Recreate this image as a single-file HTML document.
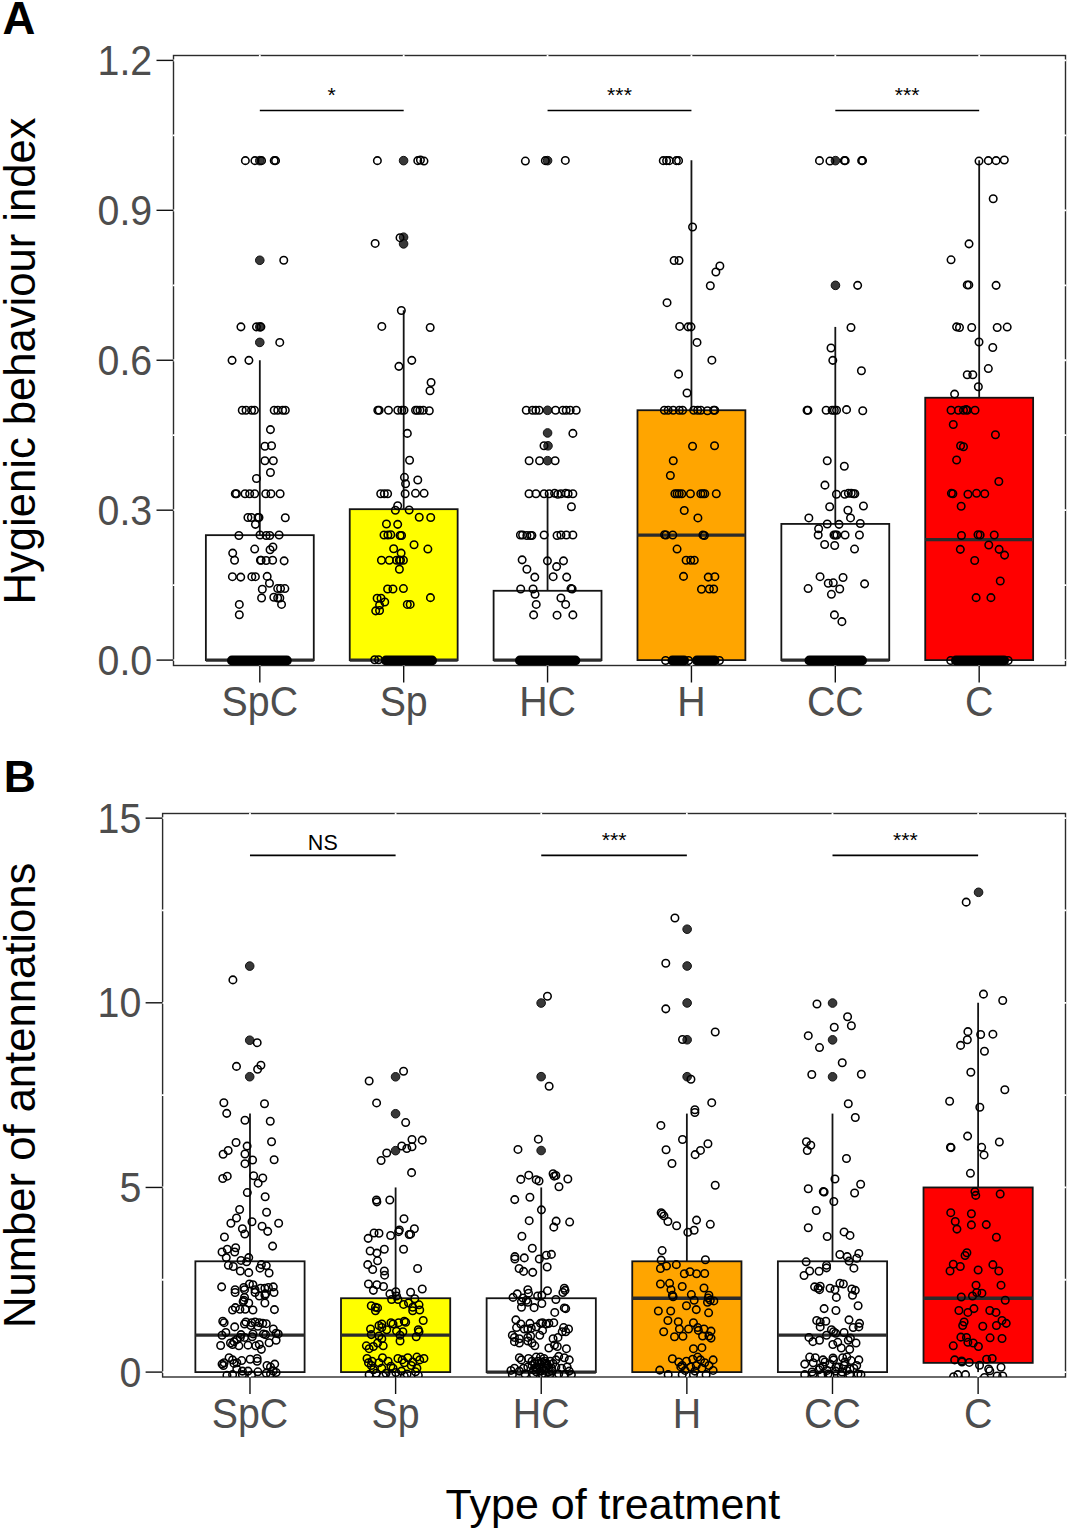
<!DOCTYPE html>
<html><head><meta charset="utf-8"><style>
html,body{margin:0;padding:0;background:#fff;}
svg{display:block;}
text{font-family:"Liberation Sans",sans-serif;}
.tk{font-size:41.6px;fill:#4D4D4D;}
.sg{font-size:21.5px;fill:#000;}
.pl{font-size:45.5px;font-weight:bold;fill:#000;}
.ti{font-size:43.6px;fill:#000;}
circle{fill:none;stroke:#000;stroke-width:1.55;}
circle.f{fill:#383838;stroke:#111;stroke-width:1;}
</style></head><body>
<svg width="1068" height="1532" viewBox="0 0 1068 1532">
<defs>
<clipPath id="ca"><rect x="173.5" y="55.5" width="892" height="610"/></clipPath>
<clipPath id="cb"><rect x="162.6" y="813.5" width="902.9" height="563.5"/></clipPath>
</defs>
<rect width="1068" height="1532" fill="#fff"/>
<rect x="173.5" y="55.5" width="892" height="610" fill="#fff" stroke="#2b2b2b" stroke-width="1.4"/>
<line x1="172.7" x2="1066.3" y1="660.1" y2="660.1" stroke="#FFFFFF" stroke-width="1.8"/>
<line x1="172.7" x2="1066.3" y1="510.18" y2="510.18" stroke="#FFFFFF" stroke-width="1.8"/>
<line x1="172.7" x2="1066.3" y1="360.25" y2="360.25" stroke="#FFFFFF" stroke-width="1.8"/>
<line x1="172.7" x2="1066.3" y1="210.32" y2="210.32" stroke="#FFFFFF" stroke-width="1.8"/>
<line x1="172.7" x2="1066.3" y1="60.4" y2="60.4" stroke="#FFFFFF" stroke-width="1.8"/>
<line x1="172.7" x2="1066.3" y1="585.14" y2="585.14" stroke="#FFFFFF" stroke-width="1.8"/>
<line x1="172.7" x2="1066.3" y1="435.21" y2="435.21" stroke="#FFFFFF" stroke-width="1.8"/>
<line x1="172.7" x2="1066.3" y1="285.29" y2="285.29" stroke="#FFFFFF" stroke-width="1.8"/>
<line x1="172.7" x2="1066.3" y1="135.36" y2="135.36" stroke="#FFFFFF" stroke-width="1.8"/>
<line y1="54.7" y2="666.3" x1="259.82" x2="259.82" stroke="#FFFFFF" stroke-width="1.8"/>
<line y1="54.7" y2="666.3" x1="403.69" x2="403.69" stroke="#FFFFFF" stroke-width="1.8"/>
<line y1="54.7" y2="666.3" x1="547.56" x2="547.56" stroke="#FFFFFF" stroke-width="1.8"/>
<line y1="54.7" y2="666.3" x1="691.44" x2="691.44" stroke="#FFFFFF" stroke-width="1.8"/>
<line y1="54.7" y2="666.3" x1="835.31" x2="835.31" stroke="#FFFFFF" stroke-width="1.8"/>
<line y1="54.7" y2="666.3" x1="979.18" x2="979.18" stroke="#FFFFFF" stroke-width="1.8"/>
<g clip-path="url(#ca)">
<line x1="259.82" x2="259.82" y1="360.25" y2="535.16" stroke="#141414" stroke-width="1.8"/>
<rect x="205.87" y="535.16" width="107.9" height="124.94" fill="#FFFFFF" stroke="#141414" stroke-width="1.8"/>
<line x1="205.87" x2="313.77" y1="660.1" y2="660.1" stroke="#2b2b2b" stroke-width="3.4"/>
<line x1="403.69" x2="403.69" y1="310.28" y2="509.18" stroke="#141414" stroke-width="1.8"/>
<rect x="349.74" y="509.18" width="107.9" height="150.92" fill="#FFFF00" stroke="#141414" stroke-width="1.8"/>
<line x1="349.74" x2="457.65" y1="660.1" y2="660.1" stroke="#2b2b2b" stroke-width="3.4"/>
<line x1="547.56" x2="547.56" y1="493.53" y2="590.78" stroke="#141414" stroke-width="1.8"/>
<rect x="493.61" y="590.78" width="107.9" height="69.32" fill="#FFFFFF" stroke="#141414" stroke-width="1.8"/>
<line x1="493.61" x2="601.52" y1="660.1" y2="660.1" stroke="#2b2b2b" stroke-width="3.4"/>
<line x1="691.44" x2="691.44" y1="160.35" y2="410.23" stroke="#141414" stroke-width="1.8"/>
<rect x="637.48" y="410.23" width="107.9" height="249.88" fill="#FFA500" stroke="#141414" stroke-width="1.8"/>
<line x1="637.48" x2="745.39" y1="535.16" y2="535.16" stroke="#2b2b2b" stroke-width="3.4"/>
<line x1="835.31" x2="835.31" y1="326.92" y2="523.92" stroke="#141414" stroke-width="1.8"/>
<rect x="781.35" y="523.92" width="107.9" height="136.18" fill="#FFFFFF" stroke="#141414" stroke-width="1.8"/>
<line x1="781.35" x2="889.26" y1="660.1" y2="660.1" stroke="#2b2b2b" stroke-width="3.4"/>
<line x1="979.18" x2="979.18" y1="160.35" y2="397.73" stroke="#141414" stroke-width="1.8"/>
<rect x="925.23" y="397.73" width="107.9" height="262.37" fill="#FF0000" stroke="#141414" stroke-width="1.8"/>
<line x1="925.23" x2="1033.13" y1="539.66" y2="539.66" stroke="#2b2b2b" stroke-width="3.4"/>
<circle class="f" cx="259.79" cy="160.64" r="4.3"/>
<circle class="f" cx="259.79" cy="260.28" r="4.3"/>
<circle class="f" cx="259.79" cy="326.86" r="4.3"/>
<circle class="f" cx="259.79" cy="342.4" r="4.3"/>
<circle class="f" cx="403.57" cy="160.64" r="4.3"/>
<circle class="f" cx="403.57" cy="237.2" r="4.3"/>
<circle class="f" cx="403.57" cy="243.86" r="4.3"/>
<circle class="f" cx="547.57" cy="160.64" r="4.3"/>
<circle class="f" cx="547.57" cy="410.31" r="4.3"/>
<circle class="f" cx="547.57" cy="432.94" r="4.3"/>
<circle class="f" cx="548.01" cy="445.81" r="4.3"/>
<circle class="f" cx="547.57" cy="460.68" r="4.3"/>
<circle class="f" cx="835.45" cy="160.64" r="4.3"/>
<circle class="f" cx="835.45" cy="285.36" r="4.3"/>
<circle cx="245.36" cy="160.64" r="3.75"/>
<circle cx="254.91" cy="160.64" r="3.75"/>
<circle cx="261.56" cy="160.64" r="3.75"/>
<circle cx="274.21" cy="160.64" r="3.75"/>
<circle cx="275.55" cy="160.64" r="3.75"/>
<circle cx="283.76" cy="260.28" r="3.75"/>
<circle cx="240.93" cy="326.86" r="3.75"/>
<circle cx="256.46" cy="326.86" r="3.75"/>
<circle cx="260.9" cy="326.86" r="3.75"/>
<circle cx="279.76" cy="342.4" r="3.75"/>
<circle cx="232.05" cy="360.37" r="3.75"/>
<circle cx="248.91" cy="360.37" r="3.75"/>
<circle cx="242.26" cy="410.31" r="3.75"/>
<circle cx="246.03" cy="410.31" r="3.75"/>
<circle cx="251.58" cy="410.31" r="3.75"/>
<circle cx="254.46" cy="410.31" r="3.75"/>
<circle cx="274.21" cy="410.31" r="3.75"/>
<circle cx="277.77" cy="410.31" r="3.75"/>
<circle cx="282.65" cy="410.31" r="3.75"/>
<circle cx="285.31" cy="410.31" r="3.75"/>
<circle cx="270.44" cy="429.61" r="3.75"/>
<circle cx="264.89" cy="446.26" r="3.75"/>
<circle cx="271.55" cy="445.81" r="3.75"/>
<circle cx="264.89" cy="460.68" r="3.75"/>
<circle cx="273.33" cy="460.68" r="3.75"/>
<circle cx="270.44" cy="472.45" r="3.75"/>
<circle cx="256.46" cy="478.44" r="3.75"/>
<circle cx="235.29" cy="493.76" r="3.75"/>
<circle cx="236.44" cy="493.76" r="3.75"/>
<circle cx="245.06" cy="493.76" r="3.75"/>
<circle cx="249.66" cy="493.76" r="3.75"/>
<circle cx="254.68" cy="493.76" r="3.75"/>
<circle cx="265.75" cy="493.76" r="3.75"/>
<circle cx="270.92" cy="493.76" r="3.75"/>
<circle cx="280.11" cy="493.76" r="3.75"/>
<circle cx="247.93" cy="517.47" r="3.75"/>
<circle cx="251.38" cy="517.47" r="3.75"/>
<circle cx="257.99" cy="517.47" r="3.75"/>
<circle cx="258.99" cy="517.47" r="3.75"/>
<circle cx="285.29" cy="517.76" r="3.75"/>
<circle cx="255.4" cy="524.37" r="3.75"/>
<circle cx="238.88" cy="535.43" r="3.75"/>
<circle cx="260" cy="535" r="3.75"/>
<circle cx="266.18" cy="535.43" r="3.75"/>
<circle cx="269.77" cy="535.43" r="3.75"/>
<circle cx="279.11" cy="535" r="3.75"/>
<circle cx="272.93" cy="546.93" r="3.75"/>
<circle cx="270.06" cy="549.8" r="3.75"/>
<circle cx="254.68" cy="549.08" r="3.75"/>
<circle cx="232.7" cy="553.1" r="3.75"/>
<circle cx="234.57" cy="560.29" r="3.75"/>
<circle cx="260.43" cy="560.29" r="3.75"/>
<circle cx="261.15" cy="560.29" r="3.75"/>
<circle cx="266.18" cy="560.57" r="3.75"/>
<circle cx="272.64" cy="560.29" r="3.75"/>
<circle cx="284.14" cy="560.86" r="3.75"/>
<circle cx="232.41" cy="576.67" r="3.75"/>
<circle cx="240.75" cy="577.1" r="3.75"/>
<circle cx="251.81" cy="576.67" r="3.75"/>
<circle cx="255.4" cy="576.67" r="3.75"/>
<circle cx="267.18" cy="576.38" r="3.75"/>
<circle cx="269.48" cy="583.28" r="3.75"/>
<circle cx="262.3" cy="589.31" r="3.75"/>
<circle cx="277.67" cy="588.59" r="3.75"/>
<circle cx="280.55" cy="588.59" r="3.75"/>
<circle cx="284.86" cy="588.59" r="3.75"/>
<circle cx="261.58" cy="597.93" r="3.75"/>
<circle cx="273.79" cy="597.21" r="3.75"/>
<circle cx="277.67" cy="597.93" r="3.75"/>
<circle cx="279.83" cy="597.93" r="3.75"/>
<circle cx="281.55" cy="604.4" r="3.75"/>
<circle cx="239.31" cy="604.4" r="3.75"/>
<circle cx="239.31" cy="614.74" r="3.75"/>
<circle cx="377.38" cy="160.64" r="3.75"/>
<circle cx="417.77" cy="160.64" r="3.75"/>
<circle cx="420.43" cy="159.97" r="3.75"/>
<circle cx="423.98" cy="161.08" r="3.75"/>
<circle cx="400.02" cy="237.65" r="3.75"/>
<circle cx="375.16" cy="243.42" r="3.75"/>
<circle cx="401.35" cy="310.44" r="3.75"/>
<circle cx="381.82" cy="326.42" r="3.75"/>
<circle cx="430.2" cy="327.53" r="3.75"/>
<circle cx="411.78" cy="360.37" r="3.75"/>
<circle cx="398.91" cy="366.36" r="3.75"/>
<circle cx="431.09" cy="382.57" r="3.75"/>
<circle cx="429.98" cy="390.78" r="3.75"/>
<circle cx="377.82" cy="410.31" r="3.75"/>
<circle cx="379.16" cy="410.31" r="3.75"/>
<circle cx="388.48" cy="410.31" r="3.75"/>
<circle cx="397.8" cy="410.31" r="3.75"/>
<circle cx="401.79" cy="410.31" r="3.75"/>
<circle cx="404.01" cy="410.31" r="3.75"/>
<circle cx="415.55" cy="410.31" r="3.75"/>
<circle cx="417.33" cy="410.31" r="3.75"/>
<circle cx="419.99" cy="410.31" r="3.75"/>
<circle cx="423.32" cy="410.31" r="3.75"/>
<circle cx="429.31" cy="410.75" r="3.75"/>
<circle cx="407.34" cy="433.39" r="3.75"/>
<circle cx="409.56" cy="460.24" r="3.75"/>
<circle cx="404.45" cy="477.33" r="3.75"/>
<circle cx="417.77" cy="479.99" r="3.75"/>
<circle cx="405.58" cy="483.71" r="3.75"/>
<circle cx="380.72" cy="493.76" r="3.75"/>
<circle cx="384.32" cy="493.76" r="3.75"/>
<circle cx="387.62" cy="493.76" r="3.75"/>
<circle cx="405.15" cy="493.76" r="3.75"/>
<circle cx="415.49" cy="493.33" r="3.75"/>
<circle cx="424.11" cy="493.33" r="3.75"/>
<circle cx="397.68" cy="505.69" r="3.75"/>
<circle cx="395.38" cy="510.29" r="3.75"/>
<circle cx="409.17" cy="510" r="3.75"/>
<circle cx="419.23" cy="517.18" r="3.75"/>
<circle cx="430.72" cy="517.47" r="3.75"/>
<circle cx="386.47" cy="523.94" r="3.75"/>
<circle cx="397.68" cy="524.37" r="3.75"/>
<circle cx="384.03" cy="535" r="3.75"/>
<circle cx="387.91" cy="535" r="3.75"/>
<circle cx="390.78" cy="534.71" r="3.75"/>
<circle cx="400.12" cy="535.43" r="3.75"/>
<circle cx="401.56" cy="535.43" r="3.75"/>
<circle cx="414.06" cy="544.77" r="3.75"/>
<circle cx="393.66" cy="548.79" r="3.75"/>
<circle cx="427.85" cy="549.08" r="3.75"/>
<circle cx="401.13" cy="553.1" r="3.75"/>
<circle cx="381.44" cy="560.29" r="3.75"/>
<circle cx="389.34" cy="560.29" r="3.75"/>
<circle cx="396.53" cy="560.29" r="3.75"/>
<circle cx="399.4" cy="560.29" r="3.75"/>
<circle cx="400.55" cy="560.29" r="3.75"/>
<circle cx="403.43" cy="560.29" r="3.75"/>
<circle cx="399.4" cy="569.2" r="3.75"/>
<circle cx="387.62" cy="589.02" r="3.75"/>
<circle cx="392.94" cy="589.02" r="3.75"/>
<circle cx="403.43" cy="588.59" r="3.75"/>
<circle cx="377.13" cy="598.22" r="3.75"/>
<circle cx="381.01" cy="598.22" r="3.75"/>
<circle cx="384.75" cy="601.95" r="3.75"/>
<circle cx="379.57" cy="605.11" r="3.75"/>
<circle cx="430.44" cy="597.64" r="3.75"/>
<circle cx="375.7" cy="610.86" r="3.75"/>
<circle cx="379.57" cy="610.57" r="3.75"/>
<circle cx="407.3" cy="604.4" r="3.75"/>
<circle cx="410.18" cy="604.4" r="3.75"/>
<circle cx="374.69" cy="659.71" r="3.75"/>
<circle cx="378.57" cy="659.71" r="3.75"/>
<circle cx="525.37" cy="161.08" r="3.75"/>
<circle cx="565.32" cy="160.42" r="3.75"/>
<circle cx="545.35" cy="160.64" r="3.75"/>
<circle cx="526.26" cy="410.31" r="3.75"/>
<circle cx="532.48" cy="410.31" r="3.75"/>
<circle cx="535.81" cy="410.31" r="3.75"/>
<circle cx="539.13" cy="410.31" r="3.75"/>
<circle cx="555.56" cy="410.31" r="3.75"/>
<circle cx="562.88" cy="410.31" r="3.75"/>
<circle cx="566.21" cy="410.31" r="3.75"/>
<circle cx="570.2" cy="410.31" r="3.75"/>
<circle cx="576.2" cy="410.31" r="3.75"/>
<circle cx="572.87" cy="433.39" r="3.75"/>
<circle cx="544.02" cy="445.81" r="3.75"/>
<circle cx="529.15" cy="460.68" r="3.75"/>
<circle cx="539.58" cy="460.68" r="3.75"/>
<circle cx="555.11" cy="460.68" r="3.75"/>
<circle cx="529.03" cy="493.76" r="3.75"/>
<circle cx="535.93" cy="493.76" r="3.75"/>
<circle cx="544.12" cy="493.76" r="3.75"/>
<circle cx="549.15" cy="493.76" r="3.75"/>
<circle cx="554.61" cy="493.33" r="3.75"/>
<circle cx="557.77" cy="494.2" r="3.75"/>
<circle cx="560.93" cy="493.76" r="3.75"/>
<circle cx="565.67" cy="493.33" r="3.75"/>
<circle cx="568.11" cy="493.76" r="3.75"/>
<circle cx="572.86" cy="493.76" r="3.75"/>
<circle cx="571.42" cy="506.7" r="3.75"/>
<circle cx="520.41" cy="535" r="3.75"/>
<circle cx="522.57" cy="535" r="3.75"/>
<circle cx="526.88" cy="535.43" r="3.75"/>
<circle cx="530.47" cy="535.43" r="3.75"/>
<circle cx="531.91" cy="535.43" r="3.75"/>
<circle cx="544.12" cy="535" r="3.75"/>
<circle cx="557.05" cy="535.43" r="3.75"/>
<circle cx="560.93" cy="535" r="3.75"/>
<circle cx="566.39" cy="535" r="3.75"/>
<circle cx="572.86" cy="535" r="3.75"/>
<circle cx="522.14" cy="559.86" r="3.75"/>
<circle cx="547.43" cy="560.86" r="3.75"/>
<circle cx="563.52" cy="560.86" r="3.75"/>
<circle cx="556.62" cy="566.61" r="3.75"/>
<circle cx="526.88" cy="569.2" r="3.75"/>
<circle cx="534.78" cy="577.1" r="3.75"/>
<circle cx="553.17" cy="576.67" r="3.75"/>
<circle cx="566.68" cy="577.1" r="3.75"/>
<circle cx="520.7" cy="589.02" r="3.75"/>
<circle cx="533.06" cy="589.02" r="3.75"/>
<circle cx="570.99" cy="588.59" r="3.75"/>
<circle cx="572.14" cy="589.02" r="3.75"/>
<circle cx="535.07" cy="594.34" r="3.75"/>
<circle cx="560.93" cy="597.93" r="3.75"/>
<circle cx="536.22" cy="604.4" r="3.75"/>
<circle cx="565.67" cy="604.4" r="3.75"/>
<circle cx="533.63" cy="614.89" r="3.75"/>
<circle cx="557.05" cy="615.17" r="3.75"/>
<circle cx="572.86" cy="614.89" r="3.75"/>
<circle cx="663.27" cy="160.64" r="3.75"/>
<circle cx="666.6" cy="160.64" r="3.75"/>
<circle cx="669.26" cy="160.64" r="3.75"/>
<circle cx="676.36" cy="160.64" r="3.75"/>
<circle cx="678.58" cy="160.64" r="3.75"/>
<circle cx="692.56" cy="227" r="3.75"/>
<circle cx="674.14" cy="260.51" r="3.75"/>
<circle cx="679.03" cy="260.51" r="3.75"/>
<circle cx="719.86" cy="266.05" r="3.75"/>
<circle cx="715.87" cy="272.05" r="3.75"/>
<circle cx="710.32" cy="285.81" r="3.75"/>
<circle cx="667.04" cy="302.67" r="3.75"/>
<circle cx="679.69" cy="326.42" r="3.75"/>
<circle cx="688.13" cy="326.86" r="3.75"/>
<circle cx="691.01" cy="326.86" r="3.75"/>
<circle cx="697" cy="342.4" r="3.75"/>
<circle cx="711.87" cy="360.15" r="3.75"/>
<circle cx="678.58" cy="374.13" r="3.75"/>
<circle cx="687.02" cy="393" r="3.75"/>
<circle cx="664.38" cy="410.31" r="3.75"/>
<circle cx="668.15" cy="410.31" r="3.75"/>
<circle cx="673.26" cy="410.31" r="3.75"/>
<circle cx="679.25" cy="410.31" r="3.75"/>
<circle cx="682.58" cy="410.31" r="3.75"/>
<circle cx="693.67" cy="410.31" r="3.75"/>
<circle cx="697.67" cy="410.31" r="3.75"/>
<circle cx="700.78" cy="410.31" r="3.75"/>
<circle cx="707.43" cy="410.75" r="3.75"/>
<circle cx="713.65" cy="410.31" r="3.75"/>
<circle cx="714.76" cy="410.31" r="3.75"/>
<circle cx="692.56" cy="446.26" r="3.75"/>
<circle cx="714.54" cy="445.81" r="3.75"/>
<circle cx="673.26" cy="460.68" r="3.75"/>
<circle cx="670.37" cy="475.55" r="3.75"/>
<circle cx="674.91" cy="493.76" r="3.75"/>
<circle cx="677.06" cy="493.76" r="3.75"/>
<circle cx="679.22" cy="493.76" r="3.75"/>
<circle cx="681.8" cy="493.76" r="3.75"/>
<circle cx="690.43" cy="493.76" r="3.75"/>
<circle cx="700.77" cy="493.76" r="3.75"/>
<circle cx="702.93" cy="493.76" r="3.75"/>
<circle cx="704.79" cy="493.76" r="3.75"/>
<circle cx="716.29" cy="493.76" r="3.75"/>
<circle cx="684.25" cy="510.57" r="3.75"/>
<circle cx="697.9" cy="517.9" r="3.75"/>
<circle cx="664.56" cy="534.71" r="3.75"/>
<circle cx="666" cy="535" r="3.75"/>
<circle cx="672.75" cy="535" r="3.75"/>
<circle cx="702.93" cy="535" r="3.75"/>
<circle cx="704.36" cy="535.43" r="3.75"/>
<circle cx="677.06" cy="549.08" r="3.75"/>
<circle cx="686.11" cy="560.29" r="3.75"/>
<circle cx="690.71" cy="560.29" r="3.75"/>
<circle cx="694.3" cy="560.29" r="3.75"/>
<circle cx="683.53" cy="576.38" r="3.75"/>
<circle cx="708.24" cy="577.1" r="3.75"/>
<circle cx="714.85" cy="576.67" r="3.75"/>
<circle cx="701.49" cy="589.31" r="3.75"/>
<circle cx="709.39" cy="589.02" r="3.75"/>
<circle cx="713.7" cy="589.02" r="3.75"/>
<circle cx="665.57" cy="660.43" r="3.75"/>
<circle cx="688.56" cy="660.43" r="3.75"/>
<circle cx="719.45" cy="660.43" r="3.75"/>
<circle cx="819.48" cy="160.64" r="3.75"/>
<circle cx="829.91" cy="161.08" r="3.75"/>
<circle cx="844.33" cy="160.64" r="3.75"/>
<circle cx="845.22" cy="160.64" r="3.75"/>
<circle cx="861.64" cy="160.64" r="3.75"/>
<circle cx="862.53" cy="160.64" r="3.75"/>
<circle cx="857.65" cy="285.36" r="3.75"/>
<circle cx="850.99" cy="327.53" r="3.75"/>
<circle cx="831.02" cy="347.94" r="3.75"/>
<circle cx="832.79" cy="360.37" r="3.75"/>
<circle cx="861.42" cy="370.8" r="3.75"/>
<circle cx="807.05" cy="410.31" r="3.75"/>
<circle cx="807.94" cy="410.31" r="3.75"/>
<circle cx="826.13" cy="410.31" r="3.75"/>
<circle cx="832.13" cy="410.31" r="3.75"/>
<circle cx="834.35" cy="410.31" r="3.75"/>
<circle cx="836.56" cy="410.31" r="3.75"/>
<circle cx="846.55" cy="409.64" r="3.75"/>
<circle cx="862.75" cy="410.75" r="3.75"/>
<circle cx="827.24" cy="460.68" r="3.75"/>
<circle cx="844.33" cy="466.23" r="3.75"/>
<circle cx="824.94" cy="485.14" r="3.75"/>
<circle cx="836.44" cy="494.2" r="3.75"/>
<circle cx="844.77" cy="494.2" r="3.75"/>
<circle cx="848.36" cy="493.33" r="3.75"/>
<circle cx="851.24" cy="493.33" r="3.75"/>
<circle cx="853.39" cy="493.76" r="3.75"/>
<circle cx="854.83" cy="493.76" r="3.75"/>
<circle cx="829.68" cy="506.7" r="3.75"/>
<circle cx="863.45" cy="505.98" r="3.75"/>
<circle cx="847.93" cy="510.29" r="3.75"/>
<circle cx="808.85" cy="517.9" r="3.75"/>
<circle cx="850.52" cy="517.9" r="3.75"/>
<circle cx="827.24" cy="523.94" r="3.75"/>
<circle cx="839.02" cy="524.37" r="3.75"/>
<circle cx="860.29" cy="523.51" r="3.75"/>
<circle cx="818.62" cy="528.68" r="3.75"/>
<circle cx="818.19" cy="535" r="3.75"/>
<circle cx="833.99" cy="535" r="3.75"/>
<circle cx="835.43" cy="535" r="3.75"/>
<circle cx="836.87" cy="535" r="3.75"/>
<circle cx="845.06" cy="535" r="3.75"/>
<circle cx="859.43" cy="535" r="3.75"/>
<circle cx="824.66" cy="544.48" r="3.75"/>
<circle cx="834.71" cy="545.49" r="3.75"/>
<circle cx="854.54" cy="549.08" r="3.75"/>
<circle cx="820.06" cy="576.67" r="3.75"/>
<circle cx="843.05" cy="577.53" r="3.75"/>
<circle cx="828.25" cy="583.28" r="3.75"/>
<circle cx="833.28" cy="582.84" r="3.75"/>
<circle cx="864.6" cy="583.85" r="3.75"/>
<circle cx="808.13" cy="588.59" r="3.75"/>
<circle cx="839.74" cy="589.02" r="3.75"/>
<circle cx="831.41" cy="594.34" r="3.75"/>
<circle cx="834.43" cy="614.89" r="3.75"/>
<circle cx="841.9" cy="621.64" r="3.75"/>
<circle cx="979.01" cy="161.08" r="3.75"/>
<circle cx="988.33" cy="160.64" r="3.75"/>
<circle cx="996.1" cy="160.64" r="3.75"/>
<circle cx="1004.31" cy="159.97" r="3.75"/>
<circle cx="993.21" cy="198.81" r="3.75"/>
<circle cx="969.02" cy="243.86" r="3.75"/>
<circle cx="951.05" cy="259.84" r="3.75"/>
<circle cx="967.25" cy="284.92" r="3.75"/>
<circle cx="968.8" cy="284.92" r="3.75"/>
<circle cx="996.1" cy="285.36" r="3.75"/>
<circle cx="956.6" cy="326.86" r="3.75"/>
<circle cx="959.48" cy="327.53" r="3.75"/>
<circle cx="971.69" cy="327.53" r="3.75"/>
<circle cx="997.21" cy="327.53" r="3.75"/>
<circle cx="1007.2" cy="327.08" r="3.75"/>
<circle cx="979.01" cy="341.95" r="3.75"/>
<circle cx="992.77" cy="347.5" r="3.75"/>
<circle cx="988.33" cy="368.58" r="3.75"/>
<circle cx="967.25" cy="374.8" r="3.75"/>
<circle cx="972.8" cy="374.8" r="3.75"/>
<circle cx="978.35" cy="386.78" r="3.75"/>
<circle cx="954.6" cy="394.11" r="3.75"/>
<circle cx="951.05" cy="410.31" r="3.75"/>
<circle cx="958.37" cy="410.31" r="3.75"/>
<circle cx="963.48" cy="410.31" r="3.75"/>
<circle cx="966.14" cy="409.64" r="3.75"/>
<circle cx="967.25" cy="410.31" r="3.75"/>
<circle cx="975.02" cy="410.31" r="3.75"/>
<circle cx="953.27" cy="424.51" r="3.75"/>
<circle cx="995.43" cy="434.72" r="3.75"/>
<circle cx="960.59" cy="445.81" r="3.75"/>
<circle cx="963.48" cy="446.7" r="3.75"/>
<circle cx="956.6" cy="460.02" r="3.75"/>
<circle cx="998.83" cy="481.55" r="3.75"/>
<circle cx="951.41" cy="493.33" r="3.75"/>
<circle cx="952.85" cy="493.76" r="3.75"/>
<circle cx="967.94" cy="494.2" r="3.75"/>
<circle cx="976.56" cy="493.33" r="3.75"/>
<circle cx="984.75" cy="493.76" r="3.75"/>
<circle cx="961.18" cy="506.26" r="3.75"/>
<circle cx="961.47" cy="535.43" r="3.75"/>
<circle cx="977.99" cy="534.71" r="3.75"/>
<circle cx="980.15" cy="535" r="3.75"/>
<circle cx="994.23" cy="535" r="3.75"/>
<circle cx="988.77" cy="545.06" r="3.75"/>
<circle cx="960.32" cy="549.37" r="3.75"/>
<circle cx="999.11" cy="549.37" r="3.75"/>
<circle cx="1004.57" cy="555.11" r="3.75"/>
<circle cx="974.69" cy="560.57" r="3.75"/>
<circle cx="1000.26" cy="580.98" r="3.75"/>
<circle cx="976.13" cy="597.64" r="3.75"/>
<circle cx="990.93" cy="597.64" r="3.75"/>
<circle cx="950.7" cy="660.43" r="3.75"/>
<circle cx="980.15" cy="660.43" r="3.75"/>
<circle cx="1008.17" cy="660.43" r="3.75"/>
<rect x="227" y="655.6" width="64.8" height="9.8" rx="4.9" fill="#000"/>
<rect x="381" y="655.6" width="56" height="9.8" rx="4.9" fill="#000"/>
<rect x="515" y="655.6" width="65.3" height="9.8" rx="4.9" fill="#000"/>
<rect x="667.5" y="655.6" width="21.5" height="9.8" rx="4.9" fill="#000"/>
<rect x="692" y="655.6" width="27.5" height="9.8" rx="4.9" fill="#000"/>
<rect x="804.5" y="655.6" width="62.5" height="9.8" rx="4.9" fill="#000"/>
<rect x="951" y="655.6" width="58" height="9.8" rx="4.9" fill="#000"/>
</g>
<line x1="156.5" x2="173.5" y1="660.1" y2="660.1" stroke="#111" stroke-width="1.4"/>
<text transform="translate(152.2,674.6) scale(0.945,1)" class="tk" text-anchor="end">0.0</text>
<line x1="156.5" x2="173.5" y1="510.18" y2="510.18" stroke="#111" stroke-width="1.4"/>
<text transform="translate(152.2,524.68) scale(0.945,1)" class="tk" text-anchor="end">0.3</text>
<line x1="156.5" x2="173.5" y1="360.25" y2="360.25" stroke="#111" stroke-width="1.4"/>
<text transform="translate(152.2,374.75) scale(0.945,1)" class="tk" text-anchor="end">0.6</text>
<line x1="156.5" x2="173.5" y1="210.32" y2="210.32" stroke="#111" stroke-width="1.4"/>
<text transform="translate(152.2,224.82) scale(0.945,1)" class="tk" text-anchor="end">0.9</text>
<line x1="156.5" x2="173.5" y1="60.4" y2="60.4" stroke="#111" stroke-width="1.4"/>
<text transform="translate(152.2,74.9) scale(0.945,1)" class="tk" text-anchor="end">1.2</text>
<line x1="259.82" x2="259.82" y1="665.5" y2="682.5" stroke="#111" stroke-width="1.4"/>
<text transform="translate(259.82,716) scale(0.945,1)" class="tk" text-anchor="middle">SpC</text>
<line x1="403.69" x2="403.69" y1="665.5" y2="682.5" stroke="#111" stroke-width="1.4"/>
<text transform="translate(403.69,716) scale(0.945,1)" class="tk" text-anchor="middle">Sp</text>
<line x1="547.56" x2="547.56" y1="665.5" y2="682.5" stroke="#111" stroke-width="1.4"/>
<text transform="translate(547.56,716) scale(0.945,1)" class="tk" text-anchor="middle">HC</text>
<line x1="691.44" x2="691.44" y1="665.5" y2="682.5" stroke="#111" stroke-width="1.4"/>
<text transform="translate(691.44,716) scale(0.945,1)" class="tk" text-anchor="middle">H</text>
<line x1="835.31" x2="835.31" y1="665.5" y2="682.5" stroke="#111" stroke-width="1.4"/>
<text transform="translate(835.31,716) scale(0.945,1)" class="tk" text-anchor="middle">CC</text>
<line x1="979.18" x2="979.18" y1="665.5" y2="682.5" stroke="#111" stroke-width="1.4"/>
<text transform="translate(979.18,716) scale(0.945,1)" class="tk" text-anchor="middle">C</text>
<line x1="259.82" x2="403.69" y1="110.5" y2="110.5" stroke="#000" stroke-width="1.7"/>
<text transform="translate(331.76,101.9) scale(1.09,1)" style="font-size:19.5px" text-anchor="middle">*</text>
<line x1="547.56" x2="691.44" y1="110.5" y2="110.5" stroke="#000" stroke-width="1.7"/>
<text transform="translate(619.5,101.9) scale(1.09,1)" style="font-size:19.5px" text-anchor="middle">***</text>
<line x1="835.31" x2="979.18" y1="110.5" y2="110.5" stroke="#000" stroke-width="1.7"/>
<text transform="translate(907.24,101.9) scale(1.09,1)" style="font-size:19.5px" text-anchor="middle">***</text>
<rect x="162.6" y="813.5" width="902.9" height="563.5" fill="#fff" stroke="#2b2b2b" stroke-width="1.4"/>
<line x1="161.8" x2="1066.3" y1="1372.1" y2="1372.1" stroke="#FFFFFF" stroke-width="1.8"/>
<line x1="161.8" x2="1066.3" y1="1187.45" y2="1187.45" stroke="#FFFFFF" stroke-width="1.8"/>
<line x1="161.8" x2="1066.3" y1="1002.8" y2="1002.8" stroke="#FFFFFF" stroke-width="1.8"/>
<line x1="161.8" x2="1066.3" y1="818.15" y2="818.15" stroke="#FFFFFF" stroke-width="1.8"/>
<line x1="161.8" x2="1066.3" y1="1279.77" y2="1279.77" stroke="#FFFFFF" stroke-width="1.8"/>
<line x1="161.8" x2="1066.3" y1="1095.12" y2="1095.12" stroke="#FFFFFF" stroke-width="1.8"/>
<line x1="161.8" x2="1066.3" y1="910.47" y2="910.47" stroke="#FFFFFF" stroke-width="1.8"/>
<line y1="812.7" y2="1377.8" x1="249.98" x2="249.98" stroke="#FFFFFF" stroke-width="1.8"/>
<line y1="812.7" y2="1377.8" x1="395.61" x2="395.61" stroke="#FFFFFF" stroke-width="1.8"/>
<line y1="812.7" y2="1377.8" x1="541.24" x2="541.24" stroke="#FFFFFF" stroke-width="1.8"/>
<line y1="812.7" y2="1377.8" x1="686.86" x2="686.86" stroke="#FFFFFF" stroke-width="1.8"/>
<line y1="812.7" y2="1377.8" x1="832.49" x2="832.49" stroke="#FFFFFF" stroke-width="1.8"/>
<line y1="812.7" y2="1377.8" x1="978.12" x2="978.12" stroke="#FFFFFF" stroke-width="1.8"/>
<g clip-path="url(#cb)">
<line x1="249.98" x2="249.98" y1="1113.59" y2="1261.31" stroke="#141414" stroke-width="1.8"/>
<rect x="195.37" y="1261.31" width="109.22" height="110.79" fill="#FFFFFF" stroke="#141414" stroke-width="1.8"/>
<line x1="195.37" x2="304.59" y1="1335.17" y2="1335.17" stroke="#2b2b2b" stroke-width="3.4"/>
<line x1="395.61" x2="395.61" y1="1187.45" y2="1298.24" stroke="#141414" stroke-width="1.8"/>
<rect x="341" y="1298.24" width="109.22" height="73.86" fill="#FFFF00" stroke="#141414" stroke-width="1.8"/>
<line x1="341" x2="450.22" y1="1335.17" y2="1335.17" stroke="#2b2b2b" stroke-width="3.4"/>
<line x1="541.24" x2="541.24" y1="1187.45" y2="1298.24" stroke="#141414" stroke-width="1.8"/>
<rect x="486.62" y="1298.24" width="109.22" height="73.86" fill="#FFFFFF" stroke="#141414" stroke-width="1.8"/>
<line x1="486.62" x2="595.85" y1="1372.1" y2="1372.1" stroke="#2b2b2b" stroke-width="3.4"/>
<line x1="686.86" x2="686.86" y1="1113.59" y2="1261.31" stroke="#141414" stroke-width="1.8"/>
<rect x="632.25" y="1261.31" width="109.22" height="110.79" fill="#FFA500" stroke="#141414" stroke-width="1.8"/>
<line x1="632.25" x2="741.48" y1="1298.24" y2="1298.24" stroke="#2b2b2b" stroke-width="3.4"/>
<line x1="832.49" x2="832.49" y1="1113.59" y2="1261.31" stroke="#141414" stroke-width="1.8"/>
<rect x="777.88" y="1261.31" width="109.22" height="110.79" fill="#FFFFFF" stroke="#141414" stroke-width="1.8"/>
<line x1="777.88" x2="887.1" y1="1335.17" y2="1335.17" stroke="#2b2b2b" stroke-width="3.4"/>
<line x1="978.12" x2="978.12" y1="1002.8" y2="1187.45" stroke="#141414" stroke-width="1.8"/>
<line x1="978.12" x2="978.12" y1="1362.87" y2="1372.1" stroke="#141414" stroke-width="1.8"/>
<rect x="923.51" y="1187.45" width="109.22" height="175.42" fill="#FF0000" stroke="#141414" stroke-width="1.8"/>
<line x1="923.51" x2="1032.73" y1="1298.24" y2="1298.24" stroke="#2b2b2b" stroke-width="3.4"/>
<circle class="f" cx="249.71" cy="966.09" r="4.3"/>
<circle class="f" cx="249.71" cy="1040.23" r="4.3"/>
<circle class="f" cx="249.71" cy="1076.72" r="4.3"/>
<circle class="f" cx="395.56" cy="1076.8" r="4.3"/>
<circle class="f" cx="395.56" cy="1113.74" r="4.3"/>
<circle class="f" cx="395.56" cy="1150.67" r="4.3"/>
<circle class="f" cx="541.14" cy="1003.06" r="4.3"/>
<circle class="f" cx="541.14" cy="1076.66" r="4.3"/>
<circle class="f" cx="541.14" cy="1150.53" r="4.3"/>
<circle class="f" cx="687.14" cy="929.21" r="4.3"/>
<circle class="f" cx="687.14" cy="966.01" r="4.3"/>
<circle class="f" cx="687.14" cy="1002.95" r="4.3"/>
<circle class="f" cx="687.14" cy="1039.75" r="4.3"/>
<circle class="f" cx="687.14" cy="1076.69" r="4.3"/>
<circle class="f" cx="832.56" cy="1003.06" r="4.3"/>
<circle class="f" cx="832.56" cy="1039.86" r="4.3"/>
<circle class="f" cx="832.56" cy="1076.8" r="4.3"/>
<circle class="f" cx="978.56" cy="892.3" r="4.3"/>
<circle cx="232.9" cy="979.89" r="3.75"/>
<circle cx="257.18" cy="1042.67" r="3.75"/>
<circle cx="236.49" cy="1066.38" r="3.75"/>
<circle cx="260.92" cy="1065.23" r="3.75"/>
<circle cx="257.61" cy="1069.25" r="3.75"/>
<circle cx="223.85" cy="1102.73" r="3.75"/>
<circle cx="264.51" cy="1103.74" r="3.75"/>
<circle cx="226.72" cy="1113.36" r="3.75"/>
<circle cx="244.97" cy="1120.26" r="3.75"/>
<circle cx="270.26" cy="1121.26" r="3.75"/>
<circle cx="236.06" cy="1142.53" r="3.75"/>
<circle cx="247.13" cy="1146.12" r="3.75"/>
<circle cx="271.55" cy="1141.81" r="3.75"/>
<circle cx="228.16" cy="1150.43" r="3.75"/>
<circle cx="223.13" cy="1154.31" r="3.75"/>
<circle cx="244.97" cy="1154.02" r="3.75"/>
<circle cx="252.59" cy="1160.06" r="3.75"/>
<circle cx="244.97" cy="1163.65" r="3.75"/>
<circle cx="274.14" cy="1159.77" r="3.75"/>
<circle cx="222.75" cy="1178.54" r="3.75"/>
<circle cx="227.25" cy="1176.15" r="3.75"/>
<circle cx="253.65" cy="1175.73" r="3.75"/>
<circle cx="262.78" cy="1177.98" r="3.75"/>
<circle cx="258.15" cy="1183.17" r="3.75"/>
<circle cx="247.33" cy="1192.58" r="3.75"/>
<circle cx="265.17" cy="1196.8" r="3.75"/>
<circle cx="239.61" cy="1209.44" r="3.75"/>
<circle cx="266.57" cy="1212.25" r="3.75"/>
<circle cx="236.52" cy="1218.01" r="3.75"/>
<circle cx="230.9" cy="1223.2" r="3.75"/>
<circle cx="251.97" cy="1221.8" r="3.75"/>
<circle cx="278.65" cy="1223.2" r="3.75"/>
<circle cx="262.08" cy="1226.29" r="3.75"/>
<circle cx="267.7" cy="1231.35" r="3.75"/>
<circle cx="242.42" cy="1228.82" r="3.75"/>
<circle cx="244.8" cy="1234.02" r="3.75"/>
<circle cx="224.44" cy="1236.97" r="3.75"/>
<circle cx="272.61" cy="1246.1" r="3.75"/>
<circle cx="235.67" cy="1247.78" r="3.75"/>
<circle cx="227.25" cy="1249.19" r="3.75"/>
<circle cx="222.05" cy="1251.99" r="3.75"/>
<circle cx="234.69" cy="1251.99" r="3.75"/>
<circle cx="226.26" cy="1257.61" r="3.75"/>
<circle cx="248.74" cy="1257.61" r="3.75"/>
<circle cx="241.01" cy="1260.42" r="3.75"/>
<circle cx="246.63" cy="1261.83" r="3.75"/>
<circle cx="228.37" cy="1265.34" r="3.75"/>
<circle cx="233.29" cy="1266.46" r="3.75"/>
<circle cx="261.38" cy="1264.63" r="3.75"/>
<circle cx="266.29" cy="1265.62" r="3.75"/>
<circle cx="259.97" cy="1268.15" r="3.75"/>
<circle cx="240.31" cy="1270.96" r="3.75"/>
<circle cx="248.74" cy="1272.64" r="3.75"/>
<circle cx="269.1" cy="1273.06" r="3.75"/>
<circle cx="221.63" cy="1286.85" r="3.75"/>
<circle cx="235.11" cy="1289.66" r="3.75"/>
<circle cx="235.11" cy="1292.47" r="3.75"/>
<circle cx="243.82" cy="1287.56" r="3.75"/>
<circle cx="244.52" cy="1289.66" r="3.75"/>
<circle cx="249.44" cy="1284.04" r="3.75"/>
<circle cx="252.95" cy="1284.75" r="3.75"/>
<circle cx="255.06" cy="1289.66" r="3.75"/>
<circle cx="255.06" cy="1292.47" r="3.75"/>
<circle cx="260.67" cy="1288.26" r="3.75"/>
<circle cx="259.27" cy="1295.98" r="3.75"/>
<circle cx="264.89" cy="1288.26" r="3.75"/>
<circle cx="265.59" cy="1293.88" r="3.75"/>
<circle cx="268.4" cy="1287.56" r="3.75"/>
<circle cx="273.31" cy="1286.85" r="3.75"/>
<circle cx="274.02" cy="1292.47" r="3.75"/>
<circle cx="264.89" cy="1295.28" r="3.75"/>
<circle cx="244.52" cy="1297.39" r="3.75"/>
<circle cx="243.82" cy="1300.2" r="3.75"/>
<circle cx="243.12" cy="1301.6" r="3.75"/>
<circle cx="248.74" cy="1303.01" r="3.75"/>
<circle cx="264.89" cy="1303.01" r="3.75"/>
<circle cx="232.58" cy="1310.03" r="3.75"/>
<circle cx="235.39" cy="1307.64" r="3.75"/>
<circle cx="239.89" cy="1309.33" r="3.75"/>
<circle cx="245.22" cy="1309.33" r="3.75"/>
<circle cx="252.95" cy="1310.03" r="3.75"/>
<circle cx="274.44" cy="1309.61" r="3.75"/>
<circle cx="222.75" cy="1321.26" r="3.75"/>
<circle cx="224.16" cy="1322.67" r="3.75"/>
<circle cx="234.69" cy="1326.88" r="3.75"/>
<circle cx="244.52" cy="1324.07" r="3.75"/>
<circle cx="245.93" cy="1321.97" r="3.75"/>
<circle cx="250.84" cy="1325.48" r="3.75"/>
<circle cx="251.54" cy="1322.67" r="3.75"/>
<circle cx="255.06" cy="1321.97" r="3.75"/>
<circle cx="257.87" cy="1326.18" r="3.75"/>
<circle cx="259.27" cy="1322.67" r="3.75"/>
<circle cx="262.78" cy="1323.37" r="3.75"/>
<circle cx="266.29" cy="1323.65" r="3.75"/>
<circle cx="273.31" cy="1328.99" r="3.75"/>
<circle cx="222.05" cy="1335.31" r="3.75"/>
<circle cx="225.84" cy="1332.5" r="3.75"/>
<circle cx="240.31" cy="1337.42" r="3.75"/>
<circle cx="241.01" cy="1334.61" r="3.75"/>
<circle cx="244.52" cy="1337.42" r="3.75"/>
<circle cx="252.25" cy="1336.71" r="3.75"/>
<circle cx="252.95" cy="1333.9" r="3.75"/>
<circle cx="263.48" cy="1333.9" r="3.75"/>
<circle cx="265.59" cy="1334.61" r="3.75"/>
<circle cx="276.12" cy="1333.2" r="3.75"/>
<circle cx="278.23" cy="1333.9" r="3.75"/>
<circle cx="236.8" cy="1339.52" r="3.75"/>
<circle cx="233.99" cy="1341.63" r="3.75"/>
<circle cx="276.12" cy="1340.22" r="3.75"/>
<circle cx="220.65" cy="1345.56" r="3.75"/>
<circle cx="230.48" cy="1343.03" r="3.75"/>
<circle cx="232.58" cy="1344.44" r="3.75"/>
<circle cx="238.9" cy="1345.84" r="3.75"/>
<circle cx="248.03" cy="1345.14" r="3.75"/>
<circle cx="255.76" cy="1345.84" r="3.75"/>
<circle cx="259.27" cy="1344.44" r="3.75"/>
<circle cx="261.38" cy="1349.35" r="3.75"/>
<circle cx="269.1" cy="1342.75" r="3.75"/>
<circle cx="222.05" cy="1364.1" r="3.75"/>
<circle cx="224.16" cy="1362.7" r="3.75"/>
<circle cx="223.46" cy="1365.51" r="3.75"/>
<circle cx="229.07" cy="1357.78" r="3.75"/>
<circle cx="232.58" cy="1359.89" r="3.75"/>
<circle cx="236.8" cy="1362.7" r="3.75"/>
<circle cx="241.71" cy="1360.59" r="3.75"/>
<circle cx="250.14" cy="1359.19" r="3.75"/>
<circle cx="257.16" cy="1358.48" r="3.75"/>
<circle cx="257.16" cy="1361.29" r="3.75"/>
<circle cx="266.99" cy="1365.51" r="3.75"/>
<circle cx="270.51" cy="1366.91" r="3.75"/>
<circle cx="274.72" cy="1364.1" r="3.75"/>
<circle cx="233.99" cy="1363.4" r="3.75"/>
<circle cx="226.97" cy="1375.34" r="3.75"/>
<circle cx="236.8" cy="1369.02" r="3.75"/>
<circle cx="242.42" cy="1371.12" r="3.75"/>
<circle cx="248.03" cy="1371.12" r="3.75"/>
<circle cx="242.42" cy="1374.63" r="3.75"/>
<circle cx="257.87" cy="1371.83" r="3.75"/>
<circle cx="266.29" cy="1373.23" r="3.75"/>
<circle cx="273.31" cy="1371.12" r="3.75"/>
<circle cx="276.12" cy="1372.53" r="3.75"/>
<circle cx="232.58" cy="1374.63" r="3.75"/>
<circle cx="251.54" cy="1375.06" r="3.75"/>
<circle cx="270.51" cy="1373.93" r="3.75"/>
<circle cx="403.57" cy="1071.18" r="3.75"/>
<circle cx="369.16" cy="1081.01" r="3.75"/>
<circle cx="376.6" cy="1102.92" r="3.75"/>
<circle cx="405.67" cy="1122.58" r="3.75"/>
<circle cx="411.99" cy="1139.44" r="3.75"/>
<circle cx="422.25" cy="1140.14" r="3.75"/>
<circle cx="401.74" cy="1146.04" r="3.75"/>
<circle cx="406.8" cy="1148.43" r="3.75"/>
<circle cx="411.99" cy="1146.74" r="3.75"/>
<circle cx="386.71" cy="1153.06" r="3.75"/>
<circle cx="381.1" cy="1160.51" r="3.75"/>
<circle cx="411.57" cy="1172.64" r="3.75"/>
<circle cx="376.46" cy="1200.03" r="3.75"/>
<circle cx="376.88" cy="1201.85" r="3.75"/>
<circle cx="389.8" cy="1200.03" r="3.75"/>
<circle cx="403.99" cy="1218.71" r="3.75"/>
<circle cx="399.35" cy="1229.94" r="3.75"/>
<circle cx="398.65" cy="1231.63" r="3.75"/>
<circle cx="414.38" cy="1228.82" r="3.75"/>
<circle cx="409.19" cy="1234.44" r="3.75"/>
<circle cx="410.59" cy="1234.16" r="3.75"/>
<circle cx="374.07" cy="1233.03" r="3.75"/>
<circle cx="378.99" cy="1233.31" r="3.75"/>
<circle cx="368.17" cy="1238.37" r="3.75"/>
<circle cx="390.65" cy="1235.56" r="3.75"/>
<circle cx="370.14" cy="1251.01" r="3.75"/>
<circle cx="376.88" cy="1253.12" r="3.75"/>
<circle cx="384.33" cy="1249.19" r="3.75"/>
<circle cx="403.57" cy="1249.19" r="3.75"/>
<circle cx="377.58" cy="1260.84" r="3.75"/>
<circle cx="367.75" cy="1264.63" r="3.75"/>
<circle cx="372.67" cy="1269.55" r="3.75"/>
<circle cx="384.33" cy="1270.96" r="3.75"/>
<circle cx="384.61" cy="1275.17" r="3.75"/>
<circle cx="417.61" cy="1268.57" r="3.75"/>
<circle cx="368.46" cy="1284.04" r="3.75"/>
<circle cx="376.88" cy="1284.75" r="3.75"/>
<circle cx="383.48" cy="1286.57" r="3.75"/>
<circle cx="373.37" cy="1290.37" r="3.75"/>
<circle cx="389.94" cy="1293.88" r="3.75"/>
<circle cx="395.84" cy="1291.77" r="3.75"/>
<circle cx="396.54" cy="1295.98" r="3.75"/>
<circle cx="391.63" cy="1299.49" r="3.75"/>
<circle cx="397.95" cy="1299.49" r="3.75"/>
<circle cx="410.59" cy="1292.19" r="3.75"/>
<circle cx="422.25" cy="1288.96" r="3.75"/>
<circle cx="414.8" cy="1298.79" r="3.75"/>
<circle cx="371.26" cy="1305.81" r="3.75"/>
<circle cx="375.48" cy="1307.22" r="3.75"/>
<circle cx="377.58" cy="1307.92" r="3.75"/>
<circle cx="375.48" cy="1310.73" r="3.75"/>
<circle cx="403.57" cy="1304.41" r="3.75"/>
<circle cx="408.48" cy="1303.01" r="3.75"/>
<circle cx="412.7" cy="1307.22" r="3.75"/>
<circle cx="412.7" cy="1310.73" r="3.75"/>
<circle cx="419.02" cy="1304.83" r="3.75"/>
<circle cx="419.72" cy="1310.03" r="3.75"/>
<circle cx="378.99" cy="1325.48" r="3.75"/>
<circle cx="381.8" cy="1324.07" r="3.75"/>
<circle cx="381.8" cy="1327.58" r="3.75"/>
<circle cx="390.93" cy="1322.67" r="3.75"/>
<circle cx="393.03" cy="1324.07" r="3.75"/>
<circle cx="398.65" cy="1322.67" r="3.75"/>
<circle cx="404.27" cy="1321.26" r="3.75"/>
<circle cx="405.67" cy="1322.25" r="3.75"/>
<circle cx="423.23" cy="1320.56" r="3.75"/>
<circle cx="370.56" cy="1328.99" r="3.75"/>
<circle cx="386.71" cy="1329.69" r="3.75"/>
<circle cx="396.54" cy="1331.1" r="3.75"/>
<circle cx="402.87" cy="1331.8" r="3.75"/>
<circle cx="418.31" cy="1329.69" r="3.75"/>
<circle cx="419.02" cy="1331.8" r="3.75"/>
<circle cx="371.26" cy="1334.61" r="3.75"/>
<circle cx="378.99" cy="1336.01" r="3.75"/>
<circle cx="381.8" cy="1338.82" r="3.75"/>
<circle cx="400.06" cy="1335.31" r="3.75"/>
<circle cx="400.06" cy="1340.93" r="3.75"/>
<circle cx="416.21" cy="1336.71" r="3.75"/>
<circle cx="366.35" cy="1345.84" r="3.75"/>
<circle cx="369.16" cy="1348.65" r="3.75"/>
<circle cx="373.37" cy="1346.54" r="3.75"/>
<circle cx="377.58" cy="1343.03" r="3.75"/>
<circle cx="383.2" cy="1345.84" r="3.75"/>
<circle cx="367.05" cy="1358.48" r="3.75"/>
<circle cx="368.46" cy="1362.7" r="3.75"/>
<circle cx="371.97" cy="1361.29" r="3.75"/>
<circle cx="371.26" cy="1365.51" r="3.75"/>
<circle cx="382.5" cy="1357.78" r="3.75"/>
<circle cx="388.12" cy="1361.29" r="3.75"/>
<circle cx="378.99" cy="1362.7" r="3.75"/>
<circle cx="381.8" cy="1368.31" r="3.75"/>
<circle cx="390.93" cy="1366.21" r="3.75"/>
<circle cx="393.03" cy="1368.31" r="3.75"/>
<circle cx="397.95" cy="1358.48" r="3.75"/>
<circle cx="402.16" cy="1359.89" r="3.75"/>
<circle cx="404.27" cy="1362.7" r="3.75"/>
<circle cx="407.78" cy="1357.78" r="3.75"/>
<circle cx="412.7" cy="1361.99" r="3.75"/>
<circle cx="416.91" cy="1357.08" r="3.75"/>
<circle cx="419.72" cy="1359.89" r="3.75"/>
<circle cx="423.93" cy="1358.48" r="3.75"/>
<circle cx="411.29" cy="1365.51" r="3.75"/>
<circle cx="416.91" cy="1368.31" r="3.75"/>
<circle cx="373.37" cy="1369.72" r="3.75"/>
<circle cx="376.18" cy="1373.23" r="3.75"/>
<circle cx="386.01" cy="1373.23" r="3.75"/>
<circle cx="395.84" cy="1372.53" r="3.75"/>
<circle cx="401.46" cy="1371.12" r="3.75"/>
<circle cx="407.08" cy="1373.93" r="3.75"/>
<circle cx="415.51" cy="1371.83" r="3.75"/>
<circle cx="418.31" cy="1375.34" r="3.75"/>
<circle cx="369.16" cy="1374.63" r="3.75"/>
<circle cx="391.63" cy="1374.63" r="3.75"/>
<circle cx="383.2" cy="1376.04" r="3.75"/>
<circle cx="404.27" cy="1376.04" r="3.75"/>
<circle cx="547.46" cy="996.32" r="3.75"/>
<circle cx="549.15" cy="1086.21" r="3.75"/>
<circle cx="538.33" cy="1139.16" r="3.75"/>
<circle cx="517.97" cy="1149.41" r="3.75"/>
<circle cx="520.78" cy="1179.38" r="3.75"/>
<circle cx="528.78" cy="1175.17" r="3.75"/>
<circle cx="536.22" cy="1179.66" r="3.75"/>
<circle cx="539.03" cy="1181.07" r="3.75"/>
<circle cx="553.08" cy="1173.76" r="3.75"/>
<circle cx="554.2" cy="1176.15" r="3.75"/>
<circle cx="555.89" cy="1175.45" r="3.75"/>
<circle cx="567.83" cy="1178.96" r="3.75"/>
<circle cx="558.98" cy="1186.69" r="3.75"/>
<circle cx="514.74" cy="1199.61" r="3.75"/>
<circle cx="529.9" cy="1197.22" r="3.75"/>
<circle cx="541.42" cy="1209.86" r="3.75"/>
<circle cx="529.2" cy="1220.67" r="3.75"/>
<circle cx="556.17" cy="1221.1" r="3.75"/>
<circle cx="569.65" cy="1222.08" r="3.75"/>
<circle cx="553.78" cy="1227.13" r="3.75"/>
<circle cx="521.9" cy="1236.26" r="3.75"/>
<circle cx="532.29" cy="1248.2" r="3.75"/>
<circle cx="514.88" cy="1256.63" r="3.75"/>
<circle cx="514.88" cy="1259.02" r="3.75"/>
<circle cx="524.29" cy="1257.89" r="3.75"/>
<circle cx="539.31" cy="1259.02" r="3.75"/>
<circle cx="546.34" cy="1255.22" r="3.75"/>
<circle cx="551.39" cy="1254.38" r="3.75"/>
<circle cx="519.09" cy="1268.57" r="3.75"/>
<circle cx="523.58" cy="1271.38" r="3.75"/>
<circle cx="532.71" cy="1272.36" r="3.75"/>
<circle cx="547.18" cy="1267.02" r="3.75"/>
<circle cx="513.05" cy="1297.39" r="3.75"/>
<circle cx="517.26" cy="1293.88" r="3.75"/>
<circle cx="527.8" cy="1289.66" r="3.75"/>
<circle cx="528.5" cy="1293.17" r="3.75"/>
<circle cx="522.88" cy="1298.09" r="3.75"/>
<circle cx="526.39" cy="1300.2" r="3.75"/>
<circle cx="521.48" cy="1301.6" r="3.75"/>
<circle cx="527.8" cy="1302.3" r="3.75"/>
<circle cx="521.48" cy="1307.22" r="3.75"/>
<circle cx="534.12" cy="1307.64" r="3.75"/>
<circle cx="537.63" cy="1295.98" r="3.75"/>
<circle cx="541.84" cy="1295.28" r="3.75"/>
<circle cx="541.84" cy="1303.43" r="3.75"/>
<circle cx="547.46" cy="1290.79" r="3.75"/>
<circle cx="555.89" cy="1299.49" r="3.75"/>
<circle cx="564.31" cy="1288.26" r="3.75"/>
<circle cx="565.02" cy="1290.37" r="3.75"/>
<circle cx="562.91" cy="1292.47" r="3.75"/>
<circle cx="564.31" cy="1307.92" r="3.75"/>
<circle cx="565.72" cy="1308.62" r="3.75"/>
<circle cx="554.76" cy="1312.42" r="3.75"/>
<circle cx="515.86" cy="1319.86" r="3.75"/>
<circle cx="520.78" cy="1324.07" r="3.75"/>
<circle cx="529.9" cy="1323.37" r="3.75"/>
<circle cx="516.56" cy="1327.58" r="3.75"/>
<circle cx="524.29" cy="1328.99" r="3.75"/>
<circle cx="527.8" cy="1328.99" r="3.75"/>
<circle cx="531.31" cy="1328.29" r="3.75"/>
<circle cx="536.22" cy="1326.88" r="3.75"/>
<circle cx="540.44" cy="1323.37" r="3.75"/>
<circle cx="542.54" cy="1322.67" r="3.75"/>
<circle cx="546.06" cy="1324.07" r="3.75"/>
<circle cx="548.87" cy="1323.37" r="3.75"/>
<circle cx="553.78" cy="1322.67" r="3.75"/>
<circle cx="542.54" cy="1330.39" r="3.75"/>
<circle cx="563.61" cy="1327.58" r="3.75"/>
<circle cx="568.53" cy="1328.99" r="3.75"/>
<circle cx="565.72" cy="1331.8" r="3.75"/>
<circle cx="562.21" cy="1331.8" r="3.75"/>
<circle cx="512.35" cy="1335.31" r="3.75"/>
<circle cx="514.46" cy="1337.42" r="3.75"/>
<circle cx="519.37" cy="1338.82" r="3.75"/>
<circle cx="527.8" cy="1337.42" r="3.75"/>
<circle cx="527.8" cy="1340.93" r="3.75"/>
<circle cx="530.61" cy="1336.01" r="3.75"/>
<circle cx="532.01" cy="1343.03" r="3.75"/>
<circle cx="534.82" cy="1345.84" r="3.75"/>
<circle cx="539.74" cy="1335.31" r="3.75"/>
<circle cx="553.08" cy="1338.82" r="3.75"/>
<circle cx="557.99" cy="1337.42" r="3.75"/>
<circle cx="554.48" cy="1345.14" r="3.75"/>
<circle cx="557.29" cy="1346.54" r="3.75"/>
<circle cx="548.87" cy="1347.95" r="3.75"/>
<circle cx="566.42" cy="1348.65" r="3.75"/>
<circle cx="514.46" cy="1341.63" r="3.75"/>
<circle cx="519.37" cy="1343.03" r="3.75"/>
<circle cx="519.37" cy="1357.78" r="3.75"/>
<circle cx="521.48" cy="1359.89" r="3.75"/>
<circle cx="528.5" cy="1358.48" r="3.75"/>
<circle cx="536.22" cy="1357.08" r="3.75"/>
<circle cx="540.44" cy="1357.08" r="3.75"/>
<circle cx="543.95" cy="1358.48" r="3.75"/>
<circle cx="555.89" cy="1359.89" r="3.75"/>
<circle cx="558.7" cy="1356.38" r="3.75"/>
<circle cx="564.31" cy="1357.78" r="3.75"/>
<circle cx="569.23" cy="1359.89" r="3.75"/>
<circle cx="510.94" cy="1370.42" r="3.75"/>
<circle cx="514.46" cy="1368.31" r="3.75"/>
<circle cx="519.37" cy="1371.12" r="3.75"/>
<circle cx="523.58" cy="1368.31" r="3.75"/>
<circle cx="527.8" cy="1366.91" r="3.75"/>
<circle cx="532.01" cy="1365.51" r="3.75"/>
<circle cx="536.22" cy="1366.91" r="3.75"/>
<circle cx="540.44" cy="1364.1" r="3.75"/>
<circle cx="544.65" cy="1363.4" r="3.75"/>
<circle cx="547.46" cy="1365.51" r="3.75"/>
<circle cx="551.67" cy="1368.31" r="3.75"/>
<circle cx="555.89" cy="1366.91" r="3.75"/>
<circle cx="561.51" cy="1368.31" r="3.75"/>
<circle cx="567.12" cy="1366.91" r="3.75"/>
<circle cx="569.23" cy="1371.12" r="3.75"/>
<circle cx="512.35" cy="1374.63" r="3.75"/>
<circle cx="524.99" cy="1373.93" r="3.75"/>
<circle cx="533.42" cy="1374.63" r="3.75"/>
<circle cx="541.84" cy="1373.93" r="3.75"/>
<circle cx="550.27" cy="1373.93" r="3.75"/>
<circle cx="558.7" cy="1373.93" r="3.75"/>
<circle cx="571.34" cy="1374.63" r="3.75"/>
<circle cx="564.31" cy="1374.63" r="3.75"/>
<circle cx="674.92" cy="917.98" r="3.75"/>
<circle cx="665.79" cy="963.2" r="3.75"/>
<circle cx="665.79" cy="1008.85" r="3.75"/>
<circle cx="715.23" cy="1032.02" r="3.75"/>
<circle cx="682.51" cy="1039.47" r="3.75"/>
<circle cx="690.93" cy="1079.21" r="3.75"/>
<circle cx="711.72" cy="1102.67" r="3.75"/>
<circle cx="694.87" cy="1109.69" r="3.75"/>
<circle cx="694.87" cy="1112.5" r="3.75"/>
<circle cx="660.88" cy="1125.42" r="3.75"/>
<circle cx="682.51" cy="1139.47" r="3.75"/>
<circle cx="666.07" cy="1149.72" r="3.75"/>
<circle cx="707.93" cy="1143.82" r="3.75"/>
<circle cx="700.48" cy="1150.42" r="3.75"/>
<circle cx="695.15" cy="1154.63" r="3.75"/>
<circle cx="671.97" cy="1163.48" r="3.75"/>
<circle cx="715.23" cy="1185.28" r="3.75"/>
<circle cx="661.16" cy="1212.67" r="3.75"/>
<circle cx="662.28" cy="1214.07" r="3.75"/>
<circle cx="663.97" cy="1215.9" r="3.75"/>
<circle cx="667.9" cy="1221.52" r="3.75"/>
<circle cx="676.61" cy="1225.73" r="3.75"/>
<circle cx="696.55" cy="1220.11" r="3.75"/>
<circle cx="710.31" cy="1224.33" r="3.75"/>
<circle cx="687.84" cy="1232.33" r="3.75"/>
<circle cx="694.16" cy="1230.22" r="3.75"/>
<circle cx="662.14" cy="1250.59" r="3.75"/>
<circle cx="661.16" cy="1260.14" r="3.75"/>
<circle cx="705.4" cy="1259.72" r="3.75"/>
<circle cx="660.46" cy="1268.57" r="3.75"/>
<circle cx="666.49" cy="1266.04" r="3.75"/>
<circle cx="676.33" cy="1264.63" r="3.75"/>
<circle cx="684.33" cy="1273.76" r="3.75"/>
<circle cx="689.95" cy="1271.66" r="3.75"/>
<circle cx="696.55" cy="1273.76" r="3.75"/>
<circle cx="704.7" cy="1273.48" r="3.75"/>
<circle cx="660.46" cy="1284.04" r="3.75"/>
<circle cx="669.58" cy="1283.34" r="3.75"/>
<circle cx="670.99" cy="1289.66" r="3.75"/>
<circle cx="672.39" cy="1295.28" r="3.75"/>
<circle cx="673.1" cy="1296.69" r="3.75"/>
<circle cx="682.22" cy="1286.57" r="3.75"/>
<circle cx="703.99" cy="1287.98" r="3.75"/>
<circle cx="691.35" cy="1294.58" r="3.75"/>
<circle cx="694.16" cy="1300.2" r="3.75"/>
<circle cx="708.91" cy="1295.28" r="3.75"/>
<circle cx="708.21" cy="1298.09" r="3.75"/>
<circle cx="710.31" cy="1300.2" r="3.75"/>
<circle cx="713.83" cy="1300.9" r="3.75"/>
<circle cx="707.51" cy="1302.3" r="3.75"/>
<circle cx="658.35" cy="1311.01" r="3.75"/>
<circle cx="670.71" cy="1311.01" r="3.75"/>
<circle cx="686.44" cy="1305.81" r="3.75"/>
<circle cx="696.27" cy="1309.61" r="3.75"/>
<circle cx="708.63" cy="1312.84" r="3.75"/>
<circle cx="667.9" cy="1320.56" r="3.75"/>
<circle cx="678.29" cy="1321.69" r="3.75"/>
<circle cx="693.46" cy="1322.67" r="3.75"/>
<circle cx="663.69" cy="1331.8" r="3.75"/>
<circle cx="679.42" cy="1328.99" r="3.75"/>
<circle cx="688.54" cy="1328.99" r="3.75"/>
<circle cx="697.67" cy="1327.58" r="3.75"/>
<circle cx="698.38" cy="1330.39" r="3.75"/>
<circle cx="703.99" cy="1328.99" r="3.75"/>
<circle cx="711.02" cy="1331.1" r="3.75"/>
<circle cx="674.5" cy="1336.71" r="3.75"/>
<circle cx="682.93" cy="1336.29" r="3.75"/>
<circle cx="702.59" cy="1336.01" r="3.75"/>
<circle cx="708.91" cy="1336.01" r="3.75"/>
<circle cx="711.02" cy="1338.12" r="3.75"/>
<circle cx="693.46" cy="1348.65" r="3.75"/>
<circle cx="701.89" cy="1347.67" r="3.75"/>
<circle cx="672.39" cy="1358.76" r="3.75"/>
<circle cx="678.71" cy="1361.99" r="3.75"/>
<circle cx="682.22" cy="1365.51" r="3.75"/>
<circle cx="686.44" cy="1361.29" r="3.75"/>
<circle cx="692.76" cy="1359.19" r="3.75"/>
<circle cx="697.67" cy="1357.08" r="3.75"/>
<circle cx="700.48" cy="1359.89" r="3.75"/>
<circle cx="704.7" cy="1362.7" r="3.75"/>
<circle cx="713.12" cy="1359.89" r="3.75"/>
<circle cx="680.82" cy="1366.91" r="3.75"/>
<circle cx="690.65" cy="1366.91" r="3.75"/>
<circle cx="696.27" cy="1365.51" r="3.75"/>
<circle cx="701.89" cy="1368.31" r="3.75"/>
<circle cx="708.91" cy="1365.51" r="3.75"/>
<circle cx="659.75" cy="1370.14" r="3.75"/>
<circle cx="713.12" cy="1370.42" r="3.75"/>
<circle cx="694.87" cy="1371.12" r="3.75"/>
<circle cx="685.03" cy="1370.42" r="3.75"/>
<circle cx="668.18" cy="1374.63" r="3.75"/>
<circle cx="682.22" cy="1374.63" r="3.75"/>
<circle cx="693.46" cy="1374.63" r="3.75"/>
<circle cx="706.1" cy="1374.63" r="3.75"/>
<circle cx="816.97" cy="1004.04" r="3.75"/>
<circle cx="847.59" cy="1016.69" r="3.75"/>
<circle cx="851.38" cy="1025.81" r="3.75"/>
<circle cx="834.25" cy="1027.22" r="3.75"/>
<circle cx="808.26" cy="1035.65" r="3.75"/>
<circle cx="819.5" cy="1047.58" r="3.75"/>
<circle cx="842.25" cy="1062.75" r="3.75"/>
<circle cx="811.78" cy="1074.55" r="3.75"/>
<circle cx="861.35" cy="1074.27" r="3.75"/>
<circle cx="848.29" cy="1103.76" r="3.75"/>
<circle cx="855.31" cy="1117.53" r="3.75"/>
<circle cx="806.44" cy="1141.69" r="3.75"/>
<circle cx="810.79" cy="1145.2" r="3.75"/>
<circle cx="807.28" cy="1150.53" r="3.75"/>
<circle cx="846.47" cy="1158.54" r="3.75"/>
<circle cx="834.95" cy="1178.96" r="3.75"/>
<circle cx="860.65" cy="1184.3" r="3.75"/>
<circle cx="808.26" cy="1188.79" r="3.75"/>
<circle cx="823.29" cy="1191.6" r="3.75"/>
<circle cx="824.13" cy="1192.02" r="3.75"/>
<circle cx="854.61" cy="1193.01" r="3.75"/>
<circle cx="833.83" cy="1201.43" r="3.75"/>
<circle cx="816.27" cy="1210.56" r="3.75"/>
<circle cx="808.26" cy="1227.7" r="3.75"/>
<circle cx="827.22" cy="1236.54" r="3.75"/>
<circle cx="844.08" cy="1231.91" r="3.75"/>
<circle cx="849.98" cy="1235.42" r="3.75"/>
<circle cx="839.87" cy="1254.52" r="3.75"/>
<circle cx="847.17" cy="1256.63" r="3.75"/>
<circle cx="858.83" cy="1253.4" r="3.75"/>
<circle cx="856.72" cy="1258.31" r="3.75"/>
<circle cx="848.99" cy="1261.12" r="3.75"/>
<circle cx="806.16" cy="1261.83" r="3.75"/>
<circle cx="826.52" cy="1265.34" r="3.75"/>
<circle cx="826.52" cy="1267.87" r="3.75"/>
<circle cx="853.91" cy="1268.15" r="3.75"/>
<circle cx="809.67" cy="1270.96" r="3.75"/>
<circle cx="819.08" cy="1271.24" r="3.75"/>
<circle cx="804.05" cy="1275.45" r="3.75"/>
<circle cx="814.58" cy="1286.85" r="3.75"/>
<circle cx="818.1" cy="1288.26" r="3.75"/>
<circle cx="820.2" cy="1286.15" r="3.75"/>
<circle cx="819.5" cy="1289.66" r="3.75"/>
<circle cx="830.03" cy="1288.26" r="3.75"/>
<circle cx="834.95" cy="1289.66" r="3.75"/>
<circle cx="839.87" cy="1283.34" r="3.75"/>
<circle cx="843.38" cy="1284.04" r="3.75"/>
<circle cx="851.8" cy="1288.96" r="3.75"/>
<circle cx="855.31" cy="1290.37" r="3.75"/>
<circle cx="852.51" cy="1295.28" r="3.75"/>
<circle cx="836.35" cy="1297.39" r="3.75"/>
<circle cx="824.13" cy="1308.62" r="3.75"/>
<circle cx="835.93" cy="1310.45" r="3.75"/>
<circle cx="858.12" cy="1305.81" r="3.75"/>
<circle cx="816.69" cy="1320.56" r="3.75"/>
<circle cx="820.2" cy="1321.97" r="3.75"/>
<circle cx="825.82" cy="1321.26" r="3.75"/>
<circle cx="820.2" cy="1326.88" r="3.75"/>
<circle cx="848.99" cy="1319.86" r="3.75"/>
<circle cx="859.53" cy="1323.37" r="3.75"/>
<circle cx="858.83" cy="1326.88" r="3.75"/>
<circle cx="853.21" cy="1327.58" r="3.75"/>
<circle cx="831.44" cy="1329.69" r="3.75"/>
<circle cx="833.54" cy="1331.8" r="3.75"/>
<circle cx="835.65" cy="1333.2" r="3.75"/>
<circle cx="844.08" cy="1332.5" r="3.75"/>
<circle cx="826.52" cy="1335.31" r="3.75"/>
<circle cx="808.97" cy="1337.42" r="3.75"/>
<circle cx="812.9" cy="1341.63" r="3.75"/>
<circle cx="819.5" cy="1340.22" r="3.75"/>
<circle cx="832.84" cy="1344.44" r="3.75"/>
<circle cx="837.76" cy="1342.33" r="3.75"/>
<circle cx="848.29" cy="1340.22" r="3.75"/>
<circle cx="850.4" cy="1338.12" r="3.75"/>
<circle cx="856.02" cy="1343.03" r="3.75"/>
<circle cx="841.27" cy="1347.95" r="3.75"/>
<circle cx="849.7" cy="1349.35" r="3.75"/>
<circle cx="809.67" cy="1357.08" r="3.75"/>
<circle cx="815.29" cy="1357.78" r="3.75"/>
<circle cx="813.18" cy="1362.7" r="3.75"/>
<circle cx="804.75" cy="1364.1" r="3.75"/>
<circle cx="823.01" cy="1359.89" r="3.75"/>
<circle cx="833.54" cy="1359.89" r="3.75"/>
<circle cx="842.67" cy="1357.78" r="3.75"/>
<circle cx="846.89" cy="1357.08" r="3.75"/>
<circle cx="851.1" cy="1360.59" r="3.75"/>
<circle cx="858.83" cy="1359.89" r="3.75"/>
<circle cx="823.01" cy="1366.21" r="3.75"/>
<circle cx="830.03" cy="1364.1" r="3.75"/>
<circle cx="838.46" cy="1366.91" r="3.75"/>
<circle cx="844.08" cy="1365.51" r="3.75"/>
<circle cx="856.72" cy="1365.51" r="3.75"/>
<circle cx="853.91" cy="1368.31" r="3.75"/>
<circle cx="818.8" cy="1369.72" r="3.75"/>
<circle cx="827.22" cy="1370.42" r="3.75"/>
<circle cx="835.65" cy="1371.12" r="3.75"/>
<circle cx="846.89" cy="1370.42" r="3.75"/>
<circle cx="804.75" cy="1374.63" r="3.75"/>
<circle cx="813.18" cy="1373.93" r="3.75"/>
<circle cx="821.61" cy="1374.63" r="3.75"/>
<circle cx="830.03" cy="1374.63" r="3.75"/>
<circle cx="841.27" cy="1374.63" r="3.75"/>
<circle cx="849.7" cy="1374.63" r="3.75"/>
<circle cx="860.93" cy="1374.63" r="3.75"/>
<circle cx="966.2" cy="902.13" r="3.75"/>
<circle cx="983.48" cy="994.13" r="3.75"/>
<circle cx="1002.72" cy="1000.45" r="3.75"/>
<circle cx="967.89" cy="1031.63" r="3.75"/>
<circle cx="980.67" cy="1034.44" r="3.75"/>
<circle cx="992.89" cy="1034.16" r="3.75"/>
<circle cx="967.33" cy="1039.78" r="3.75"/>
<circle cx="960.58" cy="1045.39" r="3.75"/>
<circle cx="984.46" cy="1051.29" r="3.75"/>
<circle cx="970.84" cy="1072.19" r="3.75"/>
<circle cx="1004.83" cy="1089.75" r="3.75"/>
<circle cx="949.63" cy="1101.26" r="3.75"/>
<circle cx="979.83" cy="1107.3" r="3.75"/>
<circle cx="967.61" cy="1136.1" r="3.75"/>
<circle cx="999.35" cy="1141.99" r="3.75"/>
<circle cx="950.47" cy="1147.19" r="3.75"/>
<circle cx="951.03" cy="1147.61" r="3.75"/>
<circle cx="981.65" cy="1147.33" r="3.75"/>
<circle cx="984.04" cy="1154.92" r="3.75"/>
<circle cx="970.42" cy="1173.34" r="3.75"/>
<circle cx="974.91" cy="1191.6" r="3.75"/>
<circle cx="975.75" cy="1195.39" r="3.75"/>
<circle cx="1000.19" cy="1193.99" r="3.75"/>
<circle cx="950.75" cy="1212.67" r="3.75"/>
<circle cx="971.4" cy="1213.79" r="3.75"/>
<circle cx="955.25" cy="1221.52" r="3.75"/>
<circle cx="971.4" cy="1224.89" r="3.75"/>
<circle cx="986.29" cy="1224.61" r="3.75"/>
<circle cx="956.93" cy="1229.1" r="3.75"/>
<circle cx="996.4" cy="1237.25" r="3.75"/>
<circle cx="966.9" cy="1252.7" r="3.75"/>
<circle cx="965.08" cy="1255.51" r="3.75"/>
<circle cx="953.28" cy="1264.21" r="3.75"/>
<circle cx="960.3" cy="1266.46" r="3.75"/>
<circle cx="950.05" cy="1270.96" r="3.75"/>
<circle cx="978.14" cy="1269.97" r="3.75"/>
<circle cx="992.89" cy="1264.63" r="3.75"/>
<circle cx="998.79" cy="1270.96" r="3.75"/>
<circle cx="976.03" cy="1285.17" r="3.75"/>
<circle cx="1001.03" cy="1285.17" r="3.75"/>
<circle cx="976.74" cy="1292.47" r="3.75"/>
<circle cx="981.93" cy="1293.17" r="3.75"/>
<circle cx="972.52" cy="1295.98" r="3.75"/>
<circle cx="961.29" cy="1296.97" r="3.75"/>
<circle cx="1005.25" cy="1300.2" r="3.75"/>
<circle cx="958.9" cy="1310.45" r="3.75"/>
<circle cx="967.89" cy="1312.42" r="3.75"/>
<circle cx="973.93" cy="1308.62" r="3.75"/>
<circle cx="989.8" cy="1310.45" r="3.75"/>
<circle cx="995.98" cy="1312.42" r="3.75"/>
<circle cx="964.1" cy="1321.97" r="3.75"/>
<circle cx="962.69" cy="1325.48" r="3.75"/>
<circle cx="982.78" cy="1326.18" r="3.75"/>
<circle cx="996.4" cy="1325.48" r="3.75"/>
<circle cx="1002.02" cy="1320.56" r="3.75"/>
<circle cx="1006.23" cy="1323.37" r="3.75"/>
<circle cx="960.87" cy="1337.13" r="3.75"/>
<circle cx="966.48" cy="1337.42" r="3.75"/>
<circle cx="967.89" cy="1342.33" r="3.75"/>
<circle cx="973.22" cy="1343.03" r="3.75"/>
<circle cx="978.42" cy="1346.54" r="3.75"/>
<circle cx="990.08" cy="1337.84" r="3.75"/>
<circle cx="1002.02" cy="1338.54" r="3.75"/>
<circle cx="953.28" cy="1345.84" r="3.75"/>
<circle cx="954.69" cy="1359.89" r="3.75"/>
<circle cx="961.71" cy="1361.01" r="3.75"/>
<circle cx="961.99" cy="1361.99" r="3.75"/>
<circle cx="969.29" cy="1362.42" r="3.75"/>
<circle cx="986.57" cy="1359.19" r="3.75"/>
<circle cx="992.19" cy="1358.48" r="3.75"/>
<circle cx="979.54" cy="1365.22" r="3.75"/>
<circle cx="988.67" cy="1369.02" r="3.75"/>
<circle cx="989.8" cy="1370.84" r="3.75"/>
<circle cx="1001.03" cy="1367.19" r="3.75"/>
<circle cx="957.78" cy="1374.63" r="3.75"/>
<circle cx="965.5" cy="1374.63" r="3.75"/>
<circle cx="953.56" cy="1376.74" r="3.75"/>
<circle cx="984.46" cy="1377.44" r="3.75"/>
<circle cx="997.1" cy="1376.04" r="3.75"/>
<circle cx="1002.72" cy="1376.04" r="3.75"/>
<circle cx="532.01" cy="1361.29" r="3.75"/>
<circle cx="534.82" cy="1363.4" r="3.75"/>
<circle cx="537.63" cy="1361.29" r="3.75"/>
<circle cx="541.84" cy="1361.99" r="3.75"/>
<circle cx="544.65" cy="1361.29" r="3.75"/>
<circle cx="546.76" cy="1363.4" r="3.75"/>
<circle cx="550.27" cy="1361.29" r="3.75"/>
<circle cx="553.08" cy="1363.4" r="3.75"/>
<circle cx="539.03" cy="1366.91" r="3.75"/>
<circle cx="542.54" cy="1366.91" r="3.75"/>
<circle cx="546.06" cy="1368.31" r="3.75"/>
<circle cx="533.42" cy="1369.72" r="3.75"/>
<circle cx="536.22" cy="1371.83" r="3.75"/>
<circle cx="540.44" cy="1371.12" r="3.75"/>
<circle cx="543.95" cy="1370.42" r="3.75"/>
<circle cx="548.87" cy="1371.83" r="3.75"/>
<circle cx="552.38" cy="1371.12" r="3.75"/>
<circle cx="542.54" cy="1374.63" r="3.75"/>
<circle cx="545.35" cy="1374.63" r="3.75"/>
<circle cx="536.93" cy="1368.31" r="3.75"/>
<circle cx="812" cy="1372" r="3.75"/>
<circle cx="820" cy="1368" r="3.75"/>
<circle cx="828" cy="1374" r="3.75"/>
<circle cx="836" cy="1367" r="3.75"/>
<circle cx="842" cy="1372" r="3.75"/>
<circle cx="850" cy="1369" r="3.75"/>
<circle cx="858" cy="1374" r="3.75"/>
<circle cx="825" cy="1362" r="3.75"/>
<circle cx="845" cy="1362" r="3.75"/>
<circle cx="833" cy="1358" r="3.75"/>
</g>
<line x1="145.6" x2="162.6" y1="1372.1" y2="1372.1" stroke="#111" stroke-width="1.4"/>
<text transform="translate(141.3,1386.6) scale(0.945,1)" class="tk" text-anchor="end">0</text>
<line x1="145.6" x2="162.6" y1="1187.45" y2="1187.45" stroke="#111" stroke-width="1.4"/>
<text transform="translate(141.3,1201.95) scale(0.945,1)" class="tk" text-anchor="end">5</text>
<line x1="145.6" x2="162.6" y1="1002.8" y2="1002.8" stroke="#111" stroke-width="1.4"/>
<text transform="translate(141.3,1017.3) scale(0.945,1)" class="tk" text-anchor="end">10</text>
<line x1="145.6" x2="162.6" y1="818.15" y2="818.15" stroke="#111" stroke-width="1.4"/>
<text transform="translate(141.3,832.65) scale(0.945,1)" class="tk" text-anchor="end">15</text>
<line x1="249.98" x2="249.98" y1="1377" y2="1394" stroke="#111" stroke-width="1.4"/>
<text transform="translate(249.98,1427.5) scale(0.945,1)" class="tk" text-anchor="middle">SpC</text>
<line x1="395.61" x2="395.61" y1="1377" y2="1394" stroke="#111" stroke-width="1.4"/>
<text transform="translate(395.61,1427.5) scale(0.945,1)" class="tk" text-anchor="middle">Sp</text>
<line x1="541.24" x2="541.24" y1="1377" y2="1394" stroke="#111" stroke-width="1.4"/>
<text transform="translate(541.24,1427.5) scale(0.945,1)" class="tk" text-anchor="middle">HC</text>
<line x1="686.86" x2="686.86" y1="1377" y2="1394" stroke="#111" stroke-width="1.4"/>
<text transform="translate(686.86,1427.5) scale(0.945,1)" class="tk" text-anchor="middle">H</text>
<line x1="832.49" x2="832.49" y1="1377" y2="1394" stroke="#111" stroke-width="1.4"/>
<text transform="translate(832.49,1427.5) scale(0.945,1)" class="tk" text-anchor="middle">CC</text>
<line x1="978.12" x2="978.12" y1="1377" y2="1394" stroke="#111" stroke-width="1.4"/>
<text transform="translate(978.12,1427.5) scale(0.945,1)" class="tk" text-anchor="middle">C</text>
<line x1="249.98" x2="395.61" y1="855.3" y2="855.3" stroke="#000" stroke-width="1.7"/>
<text transform="translate(322.79,849.9) scale(0.96,1)" style="font-size:22.4px" text-anchor="middle">NS</text>
<line x1="541.24" x2="686.86" y1="855.3" y2="855.3" stroke="#000" stroke-width="1.7"/>
<text transform="translate(614.05,847.3) scale(1.09,1)" style="font-size:19.5px" text-anchor="middle">***</text>
<line x1="832.49" x2="978.12" y1="855.3" y2="855.3" stroke="#000" stroke-width="1.7"/>
<text transform="translate(905.31,847.3) scale(1.09,1)" style="font-size:19.5px" text-anchor="middle">***</text>
<text x="2.5" y="33.7" class="pl">A</text>
<text x="3.8" y="792.1" class="pl" style="font-size:44.5px">B</text>
<text transform="translate(35,604.5) rotate(-90)" class="ti">Hygienic behaviour index</text>
<text transform="translate(35,1328) rotate(-90)" class="ti">Number of antennations</text>
<text x="445.6" y="1518.9" class="ti" style="font-size:43px">Type of treatment</text>
</svg>
</body></html>
